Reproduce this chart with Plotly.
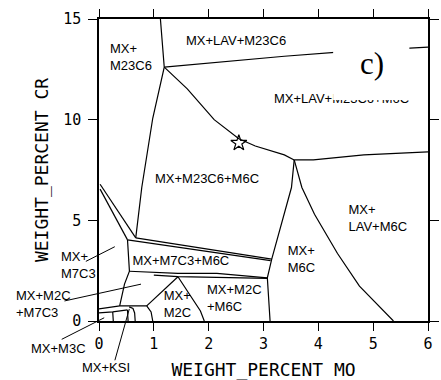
import plotly.graph_objects as go

# ---- phase boundaries (x = wt% Mo, y = wt% Cr) ----
m23_x = [1.12, 1.19, 0.98, 0.78, 0.67]
m23_y = [15.0, 12.61, 10.07, 6.63, 4.13]
lav_x = [1.19, 2.15, 3.38, 4.36, 5.66, 6.0]
lav_y = [12.61, 12.86, 13.15, 13.35, 13.54, 13.6]
m6c_top_x = [1.19, 1.61, 2.10, 2.55, 2.85, 3.38, 3.56]
m6c_top_y = [12.61, 11.53, 10.0, 9.05, 8.69, 8.25, 8.0]
lav_m6c_x = [3.56, 3.91, 4.83, 6.0]
lav_m6c_y = [8.0, 8.0, 8.25, 8.4]
m6c_left_x = [3.56, 3.51, 3.15, 3.07, 3.12]
m6c_left_y = [8.0, 6.63, 3.07, 2.14, 0.0]
m6c_right_x = [3.56, 3.70, 3.93, 4.35, 4.75, 5.10, 5.37]
m6c_right_y = [8.0, 6.63, 5.3, 3.35, 1.73, 0.75, 0.0]
wedge_out_x = [0.02, 0.67]
wedge_out_y = [6.79, 4.13]
wedge_in_x = [0.02, 0.52]
wedge_in_y = [6.55, 4.03]
m7_top_a_x = [0.67, 3.15]
m7_top_a_y = [4.13, 3.07]
m7_top_b_x = [0.52, 3.13]
m7_top_b_y = [4.03, 3.0]
m7_bot_c_x = [0.555, 1.44, 2.15, 3.07]
m7_bot_c_y = [2.47, 2.37, 2.37, 2.14]
m7_bot_d_x = [1.0, 1.44, 2.15, 3.07]
m7_bot_d_y = [2.28, 2.2, 2.17, 2.12]
m7_left_x = [0.52, 0.555, 0.465, 0.377]
m7_left_y = [4.03, 2.47, 1.83, 0.75]
m2c_left_x = [1.44, 0.87]
m2c_left_y = [2.2, 0.75]
m2c_right_x = [1.44, 1.67, 1.85, 1.92]
m2c_right_y = [2.2, 1.24, 0.50, 0.0]
h1_x = [0.0, 0.38, 0.87, 0.95, 0.98]
h1_y = [0.60, 0.75, 0.75, 0.45, 0.0]
h2_x = [0.0, 0.25, 0.52]
h2_y = [0.40, 0.45, 0.55]
v1_x = [0.25, 0.26]
v1_y = [0.45, 0.0]
v2_x = [0.52, 0.53]
v2_y = [0.55, 0.0]
v3_x = [0.55, 0.62, 0.65, 0.66]
v3_y = [0.70, 0.62, 0.40, 0.0]

# calculated alloy point
star_x = [2.55]
star_y = [8.84]

# ---- region labels inside the frame ----
lab_text = ["MX+<br>M23C6", "MX+LAV+M23C6", "MX+LAV+M23C6+M6C", "MX+M23C6+M6C",
            "MX+M7C3+M6C", "MX+<br>M2C", "MX+M2C<br>+M6C", "MX+<br>M6C", "MX+<br>LAV+M6C"]
lab_x = [0.20, 2.50, 3.19, 1.97, 0.61, 1.18, 1.97, 3.44, 4.55]
lab_y = [13.05, 13.89, 11.0, 7.02, 2.96, 0.77, 1.07, 3.03, 5.04]
lab_pos = ["middle right", "middle center", "middle right", "middle center",
           "middle right", "middle right", "middle right", "middle right", "middle right"]

# ---- labels outside the frame (with leader lines) ----
out_text = ["MX+<br>M7C3", "MX+M2C<br>+M7C3", "MX+M3C", "MX+KSI"]
out_x = [-0.72, -1.53, -1.25, -0.33]
out_y = [2.78, 0.86, -1.36, -2.29]

lead_x0 = [-0.24, -0.63, -0.68, 0.29]
lead_y0 = [2.96, 0.995, -0.91, -1.95]
lead_x1 = [0.288, 0.766, 0.095, 0.553]
lead_y1 = [3.69, 1.83, 0.16, 0.60]

x_range = [0, 6]
y_range = [0, 15]

fig = go.Figure()
lines = [
    (m23_x, m23_y), (lav_x, lav_y), (m6c_top_x, m6c_top_y), (lav_m6c_x, lav_m6c_y),
    (m6c_left_x, m6c_left_y), (m6c_right_x, m6c_right_y), (wedge_out_x, wedge_out_y),
    (wedge_in_x, wedge_in_y), (m7_top_a_x, m7_top_a_y), (m7_top_b_x, m7_top_b_y),
    (m7_bot_c_x, m7_bot_c_y), (m7_bot_d_x, m7_bot_d_y), (m7_left_x, m7_left_y),
    (m2c_left_x, m2c_left_y), (m2c_right_x, m2c_right_y), (h1_x, h1_y), (h2_x, h2_y),
    (v1_x, v1_y), (v2_x, v2_y), (v3_x, v3_y),
]
for xs, ys in lines:
    fig.add_trace(go.Scatter(x=xs, y=ys, mode="lines",
                             line=dict(color="black", width=1.2),
                             hoverinfo="skip", showlegend=False))

fig.add_trace(go.Scatter(x=star_x, y=star_y, mode="markers",
                         marker=dict(symbol="star-open", size=12, color="black",
                                     line=dict(width=1.2, color="black")),
                         showlegend=False, hoverinfo="skip"))

label_font = dict(family="Liberation Sans, Arial", size=13, color="black")
fig.add_trace(go.Scatter(
    x=lab_x, y=lab_y, mode="text", text=lab_text, textposition=lab_pos,
    textfont=label_font, cliponaxis=False, showlegend=False, hoverinfo="skip"))


def px(v):
    return (v - x_range[0]) / (x_range[1] - x_range[0])


def py(v):
    return (v - y_range[0]) / (y_range[1] - y_range[0])


for t, a, b in zip(out_text, out_x, out_y):
    fig.add_annotation(x=px(a), y=py(b), xref="paper", yref="paper", text=t,
                       showarrow=False, xanchor="left", yanchor="middle",
                       align="left", font=label_font, borderpad=0)

for a, b, c, d in zip(lead_x0, lead_y0, lead_x1, lead_y1):
    fig.add_shape(type="line", xref="paper", yref="paper",
                  x0=px(a), y0=py(b), x1=px(c), y1=py(d),
                  line=dict(color="black", width=1))

# white label box partly hiding a boundary and a label, as in the original
fig.add_shape(type="rect", xref="x", yref="y", x0=4.27, x1=5.66, y0=10.98, y1=13.78,
              fillcolor="white", line=dict(width=0), layer="above")
fig.add_annotation(x=4.97, y=12.78, xref="x", yref="y", text="c)", showarrow=False,
                   font=dict(family="Liberation Serif, Times New Roman", size=31,
                             color="black"))

mono = "DejaVu Sans Mono, monospace"
axis_common = dict(showgrid=False, zeroline=False, showline=True, linecolor="black",
                   linewidth=1.5, mirror="ticks", ticks="outside", tickcolor="black",
                   tickwidth=1.2, tickfont=dict(family=mono, size=15, color="black"))
fig.update_xaxes(range=x_range, dtick=1, ticklen=8,
                 title=dict(text="WEIGHT_PERCENT MO", standoff=13,
                            font=dict(family=mono, size=18, color="black")),
                 **axis_common)
fig.update_yaxes(range=y_range, dtick=5, ticklen=9, ticklabelstandoff=4,
                 title=dict(text="WEIGHT_PERCENT CR", standoff=10,
                            font=dict(family=mono, size=18, color="black")),
                 **axis_common)
fig.update_layout(width=441, height=380, margin=dict(l=99, r=2, t=19, b=55),
                  plot_bgcolor="white", paper_bgcolor="white")
fig.write_html("out.html")
